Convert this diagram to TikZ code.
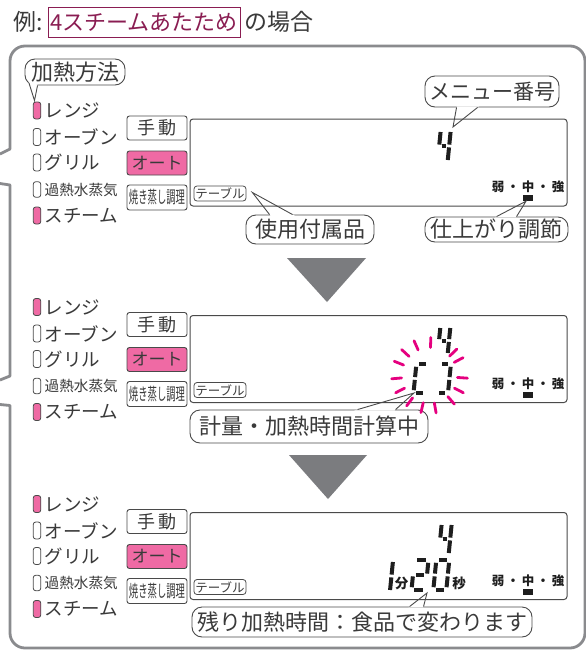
\documentclass[tikz,border=0pt]{standalone}
\usepackage{fontspec}
\usepackage{graphicx}
\setmainfont{Noto Sans CJK JP}
\usetikzlibrary{calc}
\definecolor{txt}{HTML}{3A3A3A}
\definecolor{edge}{HTML}{4A4A4A}
\definecolor{framec}{HTML}{8A8B8E}
\definecolor{tric}{HTML}{7B7C7F}
\definecolor{pinkf}{HTML}{EF6AA4}
\definecolor{maroon}{HTML}{8A1D52}
\definecolor{flash}{HTML}{E5007F}
\definecolor{lcd}{HTML}{1E1E1E}
\newcommand\fsz[1]{\fontsize{#1}{#1}\selectfont}
% seven segment pieces: #1 width, #2 height
\newcommand\sga[2]{\draw[seg] (2.8,-#2) -- (#1-2.8,-#2);}
\newcommand\sgb[2]{\draw[seg] (#1,-#2+2.8) -- (#1,-#2/2-1.4);}
\newcommand\sgc[2]{\draw[seg] (#1,-#2/2+1.4) -- (#1,-2.8);}
\newcommand\sgd[2]{\draw[seg] (2.8,0) -- (#1-2.8,0);}
\newcommand\sge[2]{\draw[seg] (0,-2.8) -- (0,-#2/2+1.4);}
\newcommand\sgf[2]{\draw[seg] (0,-#2/2-1.4) -- (0,-#2+2.8);}
\newcommand\sgg[2]{\draw[seg] (2.8,-#2/2) -- (#1-2.8,-#2/2);}
\newcommand\sdig[5]{\begin{scope}[shift={(#1,#2)}, xslant=0.1]
  \foreach \q in {#5}{\csname sg\q\endcsname{#3}{#4}}\end{scope}}
\newcommand\callptr[3]{%
  \fill[white] ($#1!-0.06!#2$) -- ($#1!0.12!#2$) -- ($#3!0.12!#2$) -- ($#3!-0.06!#2$) -- cycle;
  \draw[ptr] #1 -- #2 -- #3;}
\newcommand\panel[2]{%
\begin{scope}[shift={(0,#2)}]
  \node[indon] (ir#1) at (37,110.5) {};
  \node[lbl] (lr#1) at (44.5,110.5) {レンジ};
  \node[ind] (io#1) at (37,137) {};
  \node[lbl] (lo#1) at (44.5,137) {オーブン};
  \node[ind] (ig#1) at (37,162.5) {};
  \node[lbl] (lg#1) at (44.5,162.5) {グリル};
  \node[ind, minimum height=15.5pt] (ik#1) at (37,189.5) {};
  \node[lbl, font=\fsz{14.6}] (lk#1) at (44.5,189.5) {過熱水蒸気};
  \node[indon] (is#1) at (37,215.5) {};
  \node[lbl] (ls#1) at (44.5,215.5) {スチーム};
  \node[btn] (bm#1) at (157,128) {手\hspace{4pt}動};
  \node[btn, fill=pinkf, font=\fsz{17}] (ba#1) at (157,163) {オート};
  \node[btn, minimum height=25pt] (bs#1) at (157,197.5) {\scalebox{0.55}[1]{\fsz{17}焼き蒸し調理}};
  \node[disp] (d#1) at (378.5,162.5) {};
  \node[tbl] (t#1) at (220,193.5) {テーブル};
  \node[strength] (s#1) at (528,187) {弱\hspace{2.5pt}・\hspace{2.5pt}中\hspace{2.5pt}・\hspace{2.5pt}強};
  \node[fill=lcd, minimum width=10pt, minimum height=6pt, inner sep=0pt] (m#1) at (528,198) {};
\end{scope}}
\begin{document}
\begin{tikzpicture}[x=1pt, y=-1pt,
  callout/.style={draw=edge, line width=0.9pt, rounded corners=10pt, fill=white, inner sep=0pt, text=txt, font=\fsz{22}},
  ptr/.style={draw=edge, line width=0.9pt, line join=miter},
  ind/.style={draw=edge, line width=0.8pt, rounded corners=2.5pt, minimum width=7.5pt, minimum height=17pt, inner sep=0pt, fill=white},
  indon/.style={ind, fill=pinkf},
  lbl/.style={anchor=west, inner sep=0pt, text=txt, font=\fsz{18.5}},
  btn/.style={draw=edge, line width=0.9pt, rounded corners=2.5pt, minimum width=60pt, minimum height=24pt, inner sep=0pt, fill=white, text=txt, font=\fsz{18}},
  disp/.style={draw=edge, line width=1pt, rounded corners=3pt, minimum width=377pt, minimum height=87pt, inner sep=0pt},
  tbl/.style={draw=edge, line width=0.8pt, rounded corners=3pt, minimum width=52pt, minimum height=15pt, inner sep=0pt, text=txt, font=\fsz{12.5}},
  strength/.style={inner sep=0pt, text=lcd, font=\bfseries\fsz{12.5}},
  seg/.style={draw=lcd, line width=4pt},
  flashdash/.style={draw=flash, line width=2.8pt, line cap=round},
  ]
\useasboundingbox (0,0) rectangle (586,651);
\fill[white] (0,0) rectangle (586,651);
% outer frame
\draw[framec, line width=2.8pt, line join=round] (0,154) -- (10,149) [rounded corners=15pt] -- (10,46) -- (585,46) -- (585,648) -- (10,648) [sharp corners] -- (10,405.5) -- (0,404.5);
\draw[framec, line width=2.8pt, line join=round] (0,183.5) -- (10,185) -- (10,376) -- (0,380);
% title
\node[anchor=west, inner sep=0pt, text=txt, font=\fsz{23}] (rei) at (13,22) {例:};
\node[draw=maroon, line width=0.9pt, minimum width=192pt, minimum height=30pt, inner sep=0pt, text=maroon, font=\fsz{22}] (tbox) at (144,22) {4スチームあたため};
\node[anchor=west, inner sep=0pt, text=txt, font=\fsz{23}] (noba) at (244,22) {の場合};
% panels
\panel{1}{0}
\panel{2}{196.5}
\panel{3}{393.5}
% digits
\sdig{437.5}{162.8}{10}{33.6}{b,c,f,g}
\sdig{437.5}{355.8}{10}{30.6}{b,c,f,g}
\sdig{413.5}{393}{12}{29}{a,f,e,d}
\sdig{436.5}{393}{11.5}{29}{a,b,c,d}
\sdig{438.5}{555.8}{10}{33.6}{b,c,f,g}
\sdig{389.8}{592.8}{0}{33.6}{b,c}
\sdig{411.5}{590}{14}{30}{a,b,g,e,d}
\sdig{433.3}{590}{13}{30}{a,b,c,d,e,f}
\node[strength, font=\bfseries\fsz{13.5}] (fun) at (401.5,583.5) {分};
\node[strength, font=\bfseries\fsz{13.5}] (byo) at (459,583.5) {秒};
% callouts panel 1
\node[callout, minimum width=100pt, minimum height=26pt] (kh) at (75,72) {加熱方法};
\node[callout, minimum width=134pt, minimum height=31pt, font=\fsz{21}] (mn) at (492,91.5) {メニュー番号};
\node[callout, minimum width=128pt, minimum height=29pt] (sf) at (310,229.5) {使用付属品};
\node[callout, minimum width=143pt, minimum height=25pt] (sa) at (496.5,229.5) {仕上がり調節};
\coordinate (khb1) at (29,83);
\coordinate (khb2) at ($(kh.south west)+(13,0)$);
\coordinate (kht) at ($(ir1.north)+(-2.5,-1)$);
\callptr{(khb1)}{(kht)}{(khb2)}
\coordinate (mnb1) at ($(mn.south west)+(32,0)$);
\coordinate (mnb2) at ($(mn.south west)+(53,0)$);
\coordinate (mnt) at (453,127);
\callptr{(mnb1)}{(mnt)}{(mnb2)}
\coordinate (sfb1) at ($(sf.north west)+(24,0)$);
\coordinate (sfb2) at ($(sf.north west)+(47,0)$);
\coordinate (sft) at ($(t1.east)+(6,-1)$);
\callptr{(sfb1)}{(sft)}{(sfb2)}
\coordinate (sab1) at ($(sa.north west)+(72,0)$);
\coordinate (sab2) at ($(sa.north west)+(92,0)$);
\coordinate (sat) at ($(m1.south)+(-2,0)$);
\callptr{(sab1)}{(sat)}{(sab2)}
% panel 2
\node[callout, minimum width=238pt, minimum height=33pt] (kk) at (309,426.5) {計量・加熱時間計算中};
\coordinate (kkb1) at ($(kk.north west)+(168,0)$);
\coordinate (kkb2) at ($(kk.north west)+(206,0)$);
\coordinate (kkt) at (414,393);
\callptr{(kkb1)}{(kkt)}{(kkb2)}
\foreach \a in {88,114,137,158,185,207,233,257,280,311,333,356,28,44}
  \draw[flashdash] ($(429.5,375.5)+({28*cos(\a)},{-28*sin(\a)})$) -- ($(429.5,375.5)+({38*cos(\a)},{-38*sin(\a)})$);
% panel 3
\node[callout, minimum width=340pt, minimum height=30pt] (nk) at (362,622) {残り加熱時間：食品で変わります};
\coordinate (nkb1) at ($(nk.north west)+(218,0)$);
\coordinate (nkb2) at ($(nk.north west)+(232,0)$);
\coordinate (nkt) at (427,593);
\callptr{(nkb1)}{(nkt)}{(nkb2)}
% arrows
\fill[tric] (287,258) -- (366,258) -- (327,302) -- cycle;
\fill[tric] (289,455) -- (367,455) -- (328,499) -- cycle;
\end{tikzpicture}
\end{document}
